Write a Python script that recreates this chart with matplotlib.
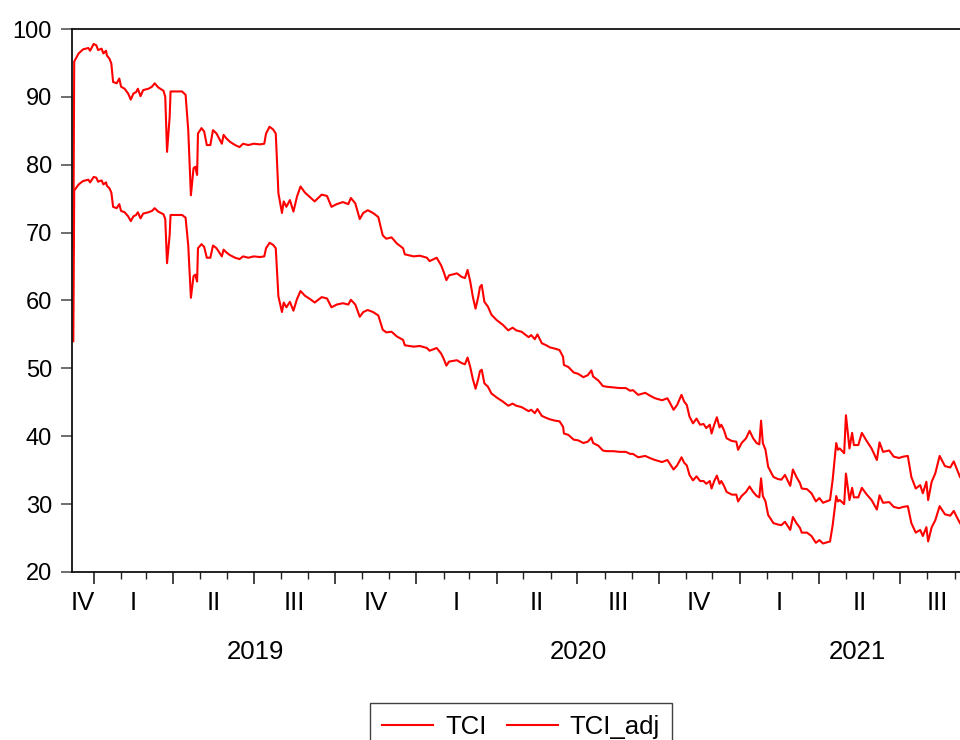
"""
TCI / TCI_adj 日度序列图 (EViews 风格)
输出: out.png
"""
import matplotlib
matplotlib.use('Agg')
import matplotlib.pyplot as plt
import matplotlib.dates as mdates
import matplotlib.ticker as mticker
import pandas as pd

# 字体
plt.rcParams['font.family'] = ['Liberation Sans', 'DejaVu Sans']

# 数据: 距 2019-01-01 的天数, 以及两条序列
BASE_DATE = pd.Timestamp('2019-01-01')

day_offset = [
    -23, -22, -17, -12, -6, -4, 0, 3, 5, 9,
    11, 14, 15, 18, 20, 22, 26, 29, 31, 35,
    39, 42, 45, 48, 50, 53, 56, 62, 66, 69,
    73, 79, 81, 83, 86, 87, 92, 100, 104, 107,
    110, 113, 115, 117, 118, 122, 125, 128, 132, 135,
    139, 143, 145, 147, 150, 154, 160, 165, 169, 175,
    181, 188, 193, 195, 199, 203, 206, 209, 213, 215,
    218, 222, 226, 230, 234, 239, 245, 250, 258, 264,
    269, 275, 282, 288, 291, 296, 301, 305, 310, 316,
    322, 327, 331, 337, 343, 350, 352, 362, 369, 377,
    380, 388, 393, 396, 399, 402, 411, 416, 420, 423,
    426, 429, 432, 435, 437, 439, 442, 446, 450, 456,
    463, 469, 474, 478, 484, 492, 495, 499, 502, 507,
    512, 516, 522, 527, 531, 532, 537, 543, 548, 554,
    559, 563, 565, 571, 576, 580, 588, 595, 602, 607,
    610, 616, 624, 629, 635, 643, 649, 652, 656, 660,
    665, 668, 671, 674, 678, 682, 686, 690, 693, 697,
    699, 702, 705, 708, 710, 713, 716, 722, 727, 729,
    733, 738, 742, 746, 750, 753, 755, 757, 760, 763,
    769, 774, 778, 782, 788, 791, 795, 799, 801, 807,
    812, 817, 821, 825, 833, 836, 840, 842, 844, 849,
    851, 855, 858, 860, 865, 869, 874, 880, 886, 889,
    893, 900, 905, 911, 916, 921, 925, 930, 935, 938,
    942, 944, 948, 952, 957, 963, 969, 973, 976, 980,
]

tci = [
    67.5, 95.2, 96.4, 97.0, 97.2, 96.8, 97.8, 97.6, 96.9, 97.1,
    96.4, 96.8, 96.1, 95.6, 94.9, 92.2, 92.0, 92.7, 91.5, 91.2,
    90.5, 89.6, 90.5, 90.7, 91.2, 90.1, 91.0, 91.2, 91.5, 92.0,
    91.4, 90.9, 90.0, 81.9, 87.1, 90.8, 90.8, 90.8, 90.3, 85.1,
    75.5, 79.5, 79.7, 78.5, 84.6, 85.4, 84.9, 82.9, 82.9, 85.1,
    84.6, 83.6, 83.1, 84.4, 83.9, 83.4, 82.9, 82.6, 83.1, 82.9,
    83.1, 83.0, 83.1, 84.6, 85.6, 85.2, 84.6, 75.8, 72.9, 74.6,
    73.8, 74.8, 73.1, 75.3, 76.8, 75.9, 75.2, 74.6, 75.6, 75.4,
    73.8, 74.2, 74.5, 74.2, 75.1, 74.3, 72.0, 72.9, 73.3, 72.9,
    72.3, 69.6, 69.1, 69.3, 68.4, 67.7, 66.8, 66.5, 66.6, 66.3,
    65.8, 66.3, 65.2, 64.2, 63.0, 63.7, 64.0, 63.5, 63.3, 64.5,
    62.8, 60.5, 58.8, 60.5, 62.0, 62.3, 59.8, 59.1, 57.9, 57.1,
    56.4, 55.6, 56.0, 55.6, 55.4, 54.6, 54.9, 54.3, 55.0, 53.7,
    53.4, 53.1, 52.9, 52.7, 51.7, 50.5, 50.2, 49.4, 49.2, 48.7,
    49.0, 49.7, 48.8, 48.2, 47.4, 47.3, 47.2, 47.1, 47.1, 46.7,
    46.8, 46.1, 46.4, 46.0, 45.6, 45.3, 45.6, 44.9, 43.9, 44.6,
    46.1, 45.1, 44.6, 42.9, 41.9, 42.6, 41.7, 41.8, 41.2, 41.7,
    40.4, 41.7, 42.8, 41.3, 41.7, 40.9, 39.7, 39.3, 39.2, 38.0,
    39.0, 39.7, 40.8, 39.7, 39.0, 38.8, 42.3, 39.0, 38.0, 35.5,
    34.0, 33.7, 33.6, 34.3, 32.7, 35.1, 34.0, 33.1, 32.3, 32.2,
    31.6, 30.4, 30.9, 30.2, 30.6, 33.6, 39.0, 38.0, 38.2, 37.5,
    43.1, 38.2, 40.5, 38.7, 38.7, 40.5, 39.4, 38.2, 36.5, 39.1,
    37.7, 37.9, 37.0, 36.8, 37.0, 37.1, 34.0, 32.3, 32.8, 31.6,
    33.3, 30.6, 33.3, 34.5, 37.1, 35.6, 35.4, 36.3, 35.3, 34.0,
]

tci_adj = [
    54.0, 76.2, 77.1, 77.6, 77.8, 77.4, 78.2, 78.1, 77.5, 77.7,
    77.1, 77.4, 76.9, 76.5, 75.9, 73.8, 73.6, 74.2, 73.2, 73.0,
    72.4, 71.7, 72.4, 72.6, 73.0, 72.1, 72.8, 73.0, 73.2, 73.6,
    73.1, 72.7, 72.0, 65.5, 69.7, 72.6, 72.6, 72.6, 72.2, 68.1,
    60.4, 63.6, 63.8, 62.8, 67.7, 68.3, 67.9, 66.3, 66.3, 68.1,
    67.7, 66.9, 66.5, 67.5, 67.1, 66.7, 66.3, 66.1, 66.5, 66.3,
    66.5, 66.4, 66.5, 67.7, 68.5, 68.2, 67.7, 60.6, 58.3, 59.7,
    59.0, 59.8, 58.5, 60.2, 61.4, 60.7, 60.2, 59.7, 60.5, 60.3,
    59.0, 59.4, 59.6, 59.4, 60.1, 59.4, 57.6, 58.3, 58.6, 58.3,
    57.8, 55.7, 55.3, 55.4, 54.7, 54.2, 53.4, 53.2, 53.3, 53.0,
    52.6, 53.0, 52.2, 51.4, 50.4, 51.0, 51.2, 50.8, 50.6, 51.6,
    50.2, 48.4, 47.0, 48.4, 49.6, 49.8, 47.8, 47.3, 46.3, 45.7,
    45.1, 44.5, 44.8, 44.5, 44.3, 43.7, 43.9, 43.4, 44.0, 43.0,
    42.7, 42.5, 42.3, 42.2, 41.4, 40.4, 40.2, 39.5, 39.4, 39.0,
    39.2, 39.8, 39.0, 38.6, 37.9, 37.8, 37.8, 37.7, 37.7, 37.4,
    37.4, 36.9, 37.1, 36.8, 36.5, 36.2, 36.5, 35.9, 35.1, 35.7,
    36.9, 36.1, 35.7, 34.3, 33.5, 34.1, 33.4, 33.4, 33.0, 33.4,
    32.3, 33.4, 34.2, 33.0, 33.4, 32.7, 31.8, 31.4, 31.4, 30.4,
    31.2, 31.8, 32.6, 31.8, 31.2, 31.0, 33.8, 31.2, 30.4, 28.4,
    27.2, 27.0, 26.9, 27.4, 26.2, 28.1, 27.2, 26.5, 25.8, 25.8,
    25.3, 24.3, 24.7, 24.2, 24.5, 26.9, 31.2, 30.4, 30.6, 30.0,
    34.5, 30.6, 32.4, 31.0, 31.0, 32.4, 31.5, 30.6, 29.2, 31.3,
    30.2, 30.3, 29.6, 29.4, 29.6, 29.7, 27.2, 25.8, 26.2, 25.3,
    26.6, 24.5, 26.6, 27.6, 29.7, 28.5, 28.3, 29.0, 28.2, 27.2,
]

series_names = ['TCI', 'TCI_adj']
quarter_names = ['I', 'II', 'III', 'IV']
year_labels = [2019, 2020, 2021]

# 横轴显示范围 (天数, 相对 BASE_DATE)
X_FIRST_DAY = -24.5
X_LAST_DAY = 997


def main():
    dates = BASE_DATE + pd.to_timedelta(day_offset, unit='D')
    x_lo = mdates.date2num(BASE_DATE + pd.Timedelta(days=X_FIRST_DAY))
    x_hi = mdates.date2num(BASE_DATE + pd.Timedelta(days=X_LAST_DAY))

    fig = plt.figure(figsize=(9.6, 7.4), dpi=100)
    # 轴右侧略超出画布 (原图被裁切)
    ax = fig.add_axes([72 / 960, 168 / 740, 903 / 960, 543 / 740])

    ax.plot(dates, tci, color='#FF0000', linewidth=1.5, label=series_names[0])
    ax.plot(dates, tci_adj, color='#FF0000', linewidth=1.5, label=series_names[1])

    ax.set_xlim(x_lo, x_hi)
    ax.set_ylim(20, 100)

    # 纵轴
    ax.set_yticks(range(20, 101, 10))
    ax.tick_params(axis='y', direction='out', length=8, width=1.2,
                   color='#555555', labelsize=17, pad=6.5)

    # 横轴: 季度主刻度 + 月份次刻度, 标签另外放
    ax.xaxis.set_major_locator(mdates.MonthLocator(bymonth=[1, 4, 7, 10]))
    ax.xaxis.set_minor_locator(mdates.MonthLocator())
    ax.xaxis.set_major_formatter(mticker.NullFormatter())
    ax.tick_params(axis='x', which='major', direction='out', length=8.5, width=1.2, color='#222222')
    ax.tick_params(axis='x', which='minor', direction='out', length=5, width=1.0, color='#222222')

    for side in ['left', 'bottom', 'top']:
        ax.spines[side].set_linewidth(1.3)
        ax.spines[side].set_color('#111111')
    ax.spines['right'].set_visible(False)

    trans = ax.get_xaxis_transform()

    # 季度标签 (可见部分的中点)
    q_start = pd.Timestamp('2018-10-01')
    while q_start < pd.Timestamp('2021-10-01'):
        q_end = q_start + pd.DateOffset(months=3)
        lo = max(mdates.date2num(q_start), x_lo)
        hi = min(mdates.date2num(q_end), x_hi)
        if hi > lo:
            name = quarter_names[(q_start.month - 1) // 3]
            ax.text((lo + hi) / 2, -0.0565, name, transform=trans,
                    ha='center', va='center', fontsize=18.5, clip_on=False)
        q_start = q_end

    # 年份标签
    for yr in year_labels:
        lo = max(mdates.date2num(pd.Timestamp(f'{yr}-01-01')), x_lo)
        hi = min(mdates.date2num(pd.Timestamp(f'{yr + 1}-01-01')), x_hi)
        ax.text((lo + hi) / 2, -0.148, str(yr), transform=trans,
                ha='center', va='center', fontsize=18.5, clip_on=False)

    # 图例
    leg = fig.legend(loc='upper center', bbox_to_anchor=(521 / 960, 1 - 703 / 740),
                     ncol=2, frameon=True, fancybox=False, edgecolor='#111111',
                     fontsize=18.5, handlelength=2.0, handletextpad=0.45,
                     columnspacing=0.8, borderpad=0.45, borderaxespad=0)
    leg.get_frame().set_linewidth(1.0)

    fig.savefig('out.png', dpi=100, facecolor='white')
    plt.close(fig)


if __name__ == '__main__':
    main()
